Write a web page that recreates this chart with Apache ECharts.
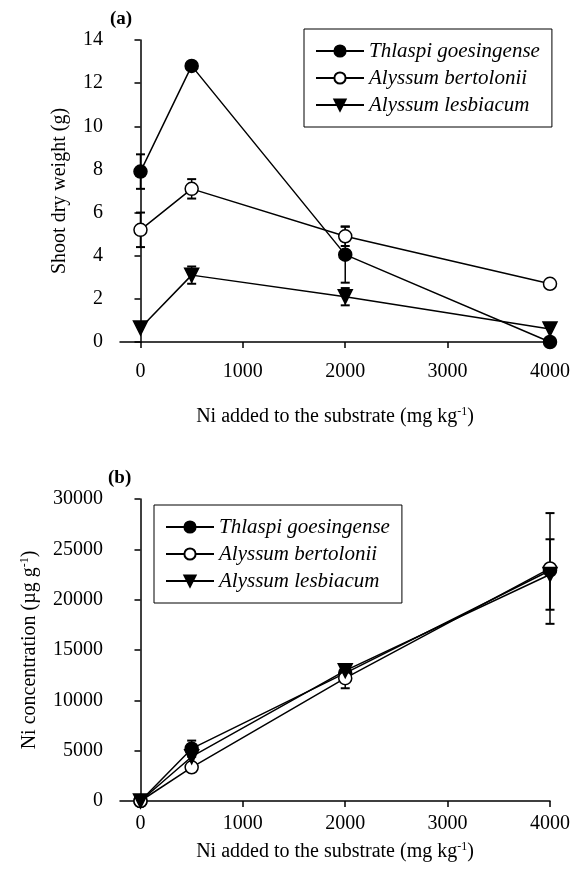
<!DOCTYPE html>
<html>
<head>
<meta charset="utf-8">
<script src="https://cdn.jsdelivr.net/npm/echarts@6/dist/echarts.min.js"></script>
<style>
  html, body { margin: 0; padding: 0; background: #fff; }
  #chart { width: 582px; height: 883px; }
</style>
</head>
<body>
<div id="chart"></div>
<script>
// Ni added to substrate (mg/kg)
const niAdded = [0, 500, 2000, 4000];
const xTicks = [0, 1000, 2000, 3000, 4000];
const speciesNames = ['Thlaspi goesingense', 'Alyssum bertolonii', 'Alyssum lesbiacum'];

// (a) shoot dry weight (g), means and error bar half-lengths
const weightThlaspi = [7.9, 12.8, 4.05, 0];
const weightThlaspiErr = [0.8, 0, 1.3, 0];
const weightBertolonii = [5.2, 7.1, 4.9, 2.7];
const weightBertoloniiErr = [0.8, 0.45, 0.45, 0];
const weightLesbiacum = [0.65, 3.1, 2.1, 0.6];
const weightLesbiacumErr = [0, 0.4, 0.4, 0];

// (b) Ni concentration (µg/g)
const concThlaspi = [0, 5200, 12700, 22900];
const concThlaspiErr = [0, 800, 0, 0];
const concBertolonii = [0, 3350, 12200, 23100];
const concBertoloniiErr = [0, 300, 1000, 5500];
const concLesbiacum = [0, 4400, 12950, 22500];
const concLesbiacumErr = [0, 0, 0, 3500];

const FONT = 'Liberation Serif';

const marks = [
  { symbol: 'circle', size: 13, rotate: 0, fill: '#000' },
  { symbol: 'circle', size: 13, rotate: 0, fill: '#fff' },
  { symbol: 'triangle', size: 14, rotate: 180, fill: '#000' }
];

function pairs(vals) {
  return vals.map((v, i) => [niAdded[i], v]);
}
function errData(vals, errs) {
  return vals.map((v, i) => [niAdded[i], v - errs[i], v + errs[i]]).filter((d, i) => errs[i] > 0);
}

function renderErr(params, api) {
  const x = api.value(0);
  const top = api.coord([x, api.value(2)]);
  const bot = api.coord([x, api.value(1)]);
  const w = 4.5;
  const style = { stroke: '#000', lineWidth: 1.5 };
  return {
    type: 'group',
    children: [
      { type: 'line', shape: { x1: top[0], y1: top[1], x2: bot[0], y2: bot[1] }, style },
      { type: 'line', shape: { x1: top[0] - w, y1: top[1], x2: top[0] + w, y2: top[1] }, style: { stroke: '#000', lineWidth: 2 } },
      { type: 'line', shape: { x1: bot[0] - w, y1: bot[1], x2: bot[0] + w, y2: bot[1] }, style: { stroke: '#000', lineWidth: 2 } }
    ]
  };
}

function lineSeries(i, idx, vals) {
  const m = marks[i];
  return {
    name: speciesNames[i],
    type: 'line',
    xAxisIndex: idx,
    yAxisIndex: idx,
    data: pairs(vals),
    symbol: m.symbol,
    symbolSize: m.size,
    symbolRotate: m.rotate,
    showAllSymbol: true,
    lineStyle: { color: '#000', width: 1.5 },
    itemStyle: { color: m.fill, borderColor: '#000', borderWidth: 1.5 },
    z: 3,
    animation: false
  };
}
function errSeries(idx, vals, errs) {
  return {
    type: 'custom',
    xAxisIndex: idx,
    yAxisIndex: idx,
    data: errData(vals, errs),
    renderItem: renderErr,
    encode: { x: 0, y: [1, 2] },
    z: 1,
    silent: true,
    animation: false
  };
}

const plain = v => String(v);
const axisText = { color: '#000', fontFamily: FONT, fontSize: 20 };
const supRich = {
  sup: { fontFamily: FONT, fontSize: 12, color: '#000', verticalAlign: 'top', padding: [0, 0, 10, 0] }
};

function xAxis(idx, labelMargin, nameGap) {
  return {
    type: 'value',
    gridIndex: idx,
    min: -200,
    max: 4000,
    axisLine: { lineStyle: { color: '#000', width: 1.5 } },
    axisTick: { show: true, length: 6, inside: false, customValues: xTicks, lineStyle: { color: '#000', width: 1.5 } },
    axisLabel: Object.assign({ margin: labelMargin, customValues: xTicks, formatter: plain }, axisText),
    splitLine: { show: false },
    name: 'Ni added to the substrate (mg kg{sup|-1})',
    nameLocation: 'middle',
    nameGap: nameGap,
    nameTextStyle: Object.assign({ rich: supRich }, axisText)
  };
}
function yAxis(idx, max, interval, name, nameGap) {
  return {
    type: 'value',
    gridIndex: idx,
    min: 0,
    max: max,
    interval: interval,
    axisLine: { show: true, lineStyle: { color: '#000', width: 1.5 } },
    axisTick: { show: true, length: 6, lineStyle: { color: '#000', width: 1.5 } },
    axisLabel: Object.assign({ margin: 17, formatter: plain }, axisText),
    splitLine: { show: false },
    name: name,
    nameLocation: 'middle',
    nameGap: nameGap,
    nameRotate: 90,
    nameTextStyle: Object.assign({ rich: supRich }, axisText)
  };
}
function legend(left, top) {
  return {
    left: left,
    top: top,
    orient: 'vertical',
    data: speciesNames,
    itemWidth: 48,
    itemHeight: 14,
    itemGap: 5,
    padding: [11, 12, 11, 11],
    borderColor: '#000',
    borderWidth: 1,
    backgroundColor: '#fff',
    selectedMode: false,
    textStyle: { color: '#000', fontFamily: FONT, fontSize: 21, fontStyle: 'italic', lineHeight: 22 }
  };
}

const chart = echarts.init(document.getElementById('chart'), null, { renderer: 'canvas' });
chart.setOption({
  animation: false,
  backgroundColor: '#fff',
  grid: [
    { left: 120, top: 40, width: 430, height: 302 },
    { left: 120, top: 499, width: 430, height: 302 }
  ],
  xAxis: [xAxis(0, 20, 64), xAxis(1, 13, 40)],
  yAxis: [
    yAxis(0, 14, 2, 'Shoot dry weight (g)', 50),
    yAxis(1, 30000, 5000, 'Ni concentration (µg g{sup|-1})', 79)
  ],
  legend: [legend(304, 29), legend(154, 505)],
  graphic: [
    { type: 'text', left: 110, top: 10, style: { text: '(a)', font: 'bold 19px "Liberation Serif"', fill: '#000' } },
    { type: 'text', left: 108, top: 469, style: { text: '(b)', font: 'bold 19px "Liberation Serif"', fill: '#000' } }
  ],
  series: [
    errSeries(0, weightThlaspi, weightThlaspiErr),
    errSeries(0, weightBertolonii, weightBertoloniiErr),
    errSeries(0, weightLesbiacum, weightLesbiacumErr),
    lineSeries(0, 0, weightThlaspi),
    lineSeries(1, 0, weightBertolonii),
    lineSeries(2, 0, weightLesbiacum),
    errSeries(1, concThlaspi, concThlaspiErr),
    errSeries(1, concBertolonii, concBertoloniiErr),
    errSeries(1, concLesbiacum, concLesbiacumErr),
    lineSeries(0, 1, concThlaspi),
    lineSeries(1, 1, concBertolonii),
    lineSeries(2, 1, concLesbiacum)
  ]
});
</script>
</body>
</html>
